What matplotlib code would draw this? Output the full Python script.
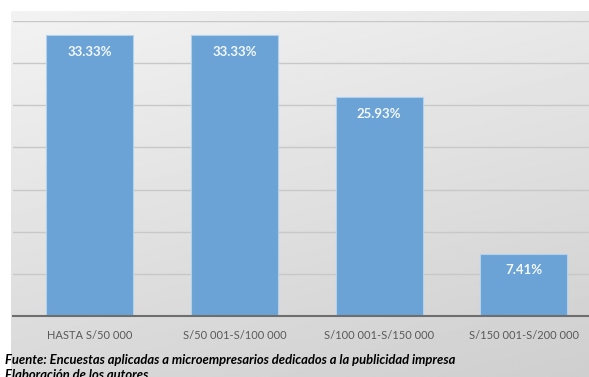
import matplotlib.pyplot as plt
import numpy as np

# datos
categorias = ['HASTA S/50 000', 'S/50 001-S/100 000', 'S/100 001-S/150 000', 'S/150 001-S/200 000']
porcentajes = [33.33, 33.33, 25.93, 7.41]
etiquetas = ['33.33%', '33.33%', '25.93%', '7.41%']

plt.rcParams['font.family'] = ['Lato', 'DejaVu Sans']

W, H = 589, 377
fig = plt.figure(figsize=(W / 100, H / 100), dpi=100, facecolor='white')

# fondo gris degradado
bg = fig.add_axes([11 / W, 0, 1 - 11 / W, 1 - 11 / H])
bg.set_axis_off()
yy, xx = np.mgrid[0:1:200j, 0:1:200j]
grad = 0.95 - 0.10 * yy - 0.04 * xx
bg.imshow(grad, cmap='gray', vmin=0, vmax=1, aspect='auto', extent=[0, 1, 0, 1], origin='upper')
bg.set_xlim(0, 1)
bg.set_ylim(0, 1)

ax = fig.add_axes([13 / W, (H - 316) / H, 1 - 13 / W, (316 - 21) / H])
ax.patch.set_alpha(0)
x = np.arange(len(categorias))
barras = ax.bar(x, porcentajes, width=0.6, color='#6ba3d6', edgecolor='#b3d0ec', linewidth=0.8, zorder=3)
ax.set_xlim(-0.53, 3.45)
ax.set_ylim(0, 35)
ax.set_yticks(np.arange(0, 36, 5))
ax.yaxis.grid(True, color='#c8c8c8', linewidth=1.0, zorder=0)
ax.set_yticklabels([])
ax.tick_params(axis='y', length=0)
ax.tick_params(axis='x', length=0, pad=10, labelsize=8, labelcolor='#595959')
ax.set_xticks(x)
ax.set_xticklabels(categorias)
for s in ['top', 'right', 'left']:
    ax.spines[s].set_visible(False)
ax.spines['bottom'].set_color('#6e6e6e')
ax.spines['bottom'].set_linewidth(1.5)
ax.spines['bottom'].set_zorder(4)

for b, t in zip(barras, etiquetas):
    ax.annotate(t, (b.get_x() + b.get_width() / 2, b.get_height()), xytext=(0, -12),
                textcoords='offset points', ha='center', va='center', color='#f4f8fc',
                fontsize=9.5, fontweight='bold', zorder=5)

fig.text(5 / W, 1 - 360 / H, 'Fuente: Encuestas aplicadas a microempresarios dedicados a la publicidad impresa',
         fontsize=9.4, fontweight='bold', style='italic', color='black', va='center')
fig.text(5 / W, 1 - 375 / H, 'Elaboración de los autores',
         fontsize=9.4, fontweight='bold', style='italic', color='black', va='center')

fig.savefig('out.png', dpi=100)
